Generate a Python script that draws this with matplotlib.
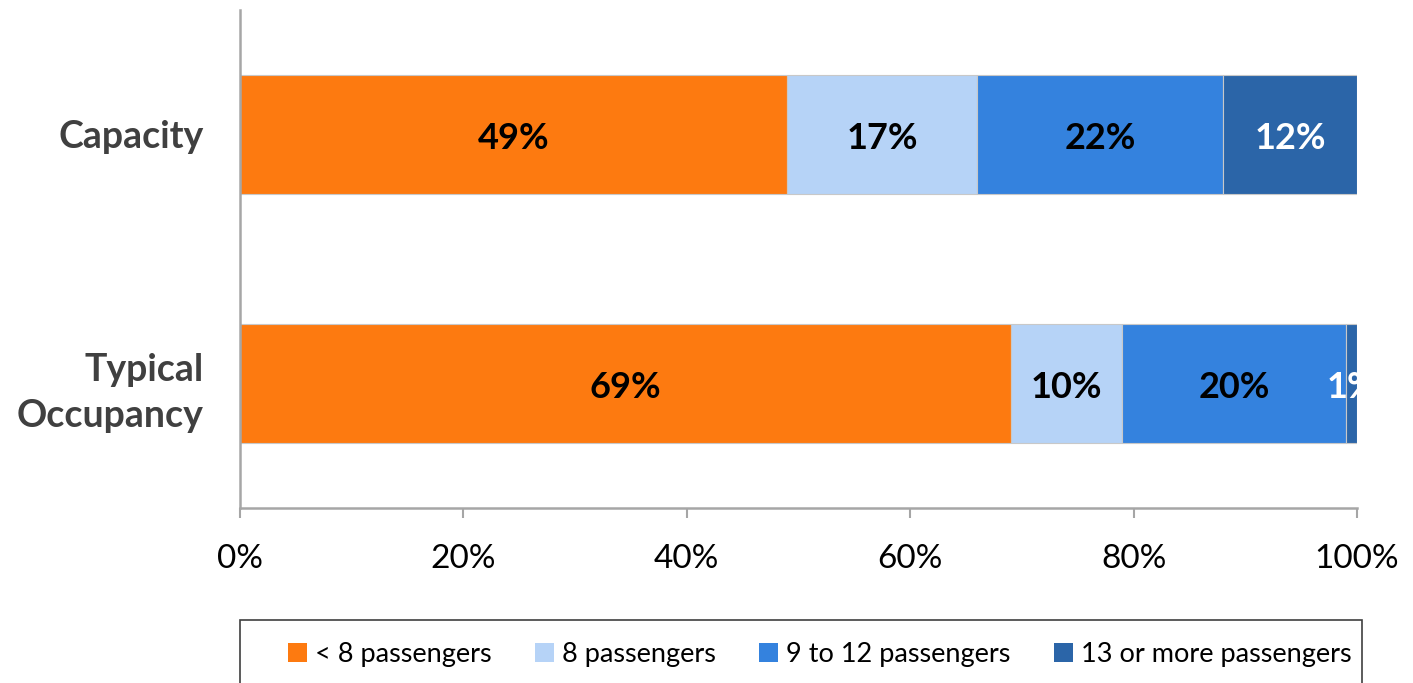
import matplotlib.pyplot as plt
from matplotlib.patches import Rectangle

plt.rcParams["font.family"] = ["Lato", "DejaVu Sans"]

categories = ["Typical\nOccupancy", "Capacity"]
series_names = ["< 8 passengers", "8 passengers", "9 to 12 passengers", "13 or more passengers"]
under_8 = [69, 49]
exactly_8 = [10, 17]
nine_to_12 = [20, 22]
thirteen_plus = [1, 12]
x_ticks = [0, 20, 40, 60, 80, 100]

colors = ["#FD7A10", "#B6D3F7", "#3482DE", "#2B65A8"]
label_colors = ["black", "black", "black", "white"]

fig = plt.figure(figsize=(14.13, 6.83), dpi=100)
ax = fig.add_axes([0.1699, 0.2562, 0.7905, 0.7292])

y = list(range(len(categories)))
left = [0, 0]
for name, vals, col, tcol in zip(series_names,
                                 [under_8, exactly_8, nine_to_12, thirteen_plus],
                                 colors, label_colors):
    ax.barh(y, vals, left=left, height=0.475, color=col,
            edgecolor="#C8C8C8", linewidth=0.8, label=name)
    for yi, v, l in zip(y, vals, left):
        ax.annotate(f"{v}%", (l + v / 2, yi), xytext=(0, -3), textcoords="offset points",
                    ha="center", va="center", fontsize=26, fontweight="bold",
                    color=tcol, annotation_clip=True, clip_on=True)
    left = [a + b for a, b in zip(left, vals)]

ax.set_xlim(0, 100)
ax.set_ylim(-0.5, 1.5)
ax.set_xticks(x_ticks)
ax.set_xticklabels([f"{t}%" for t in x_ticks], fontsize=24)
ax.set_yticks(y)
ax.set_yticklabels(categories, fontsize=27, fontweight="bold", color="#404040",
                   linespacing=1.45)
ax.tick_params(axis="y", length=0, pad=26)
ax.tick_params(axis="x", length=7, width=1.5, color="#A6A6A6", pad=19)

for side in ["top", "right"]:
    ax.spines[side].set_visible(False)
for side in ["left", "bottom"]:
    ax.spines[side].set_color("#A6A6A6")
    ax.spines[side].set_linewidth(1.8)

# legend box running off the bottom edge
fig.patches.append(Rectangle((0.1699, -0.05), 0.7940, 0.1422, transform=fig.transFigure,
                             facecolor="none", edgecolor="#404040", linewidth=1.2))
handles, labels = ax.get_legend_handles_labels()
leg = fig.legend(handles, labels, loc="center", bbox_to_anchor=(0.580, 0.042),
                 ncol=4, frameon=False, fontsize=19.5, handlelength=0.7,
                 handleheight=0.7, handletextpad=0.3, columnspacing=1.6)
for h in leg.legend_handles:
    h.set_edgecolor("none")

fig.savefig("out.png", dpi=100)
